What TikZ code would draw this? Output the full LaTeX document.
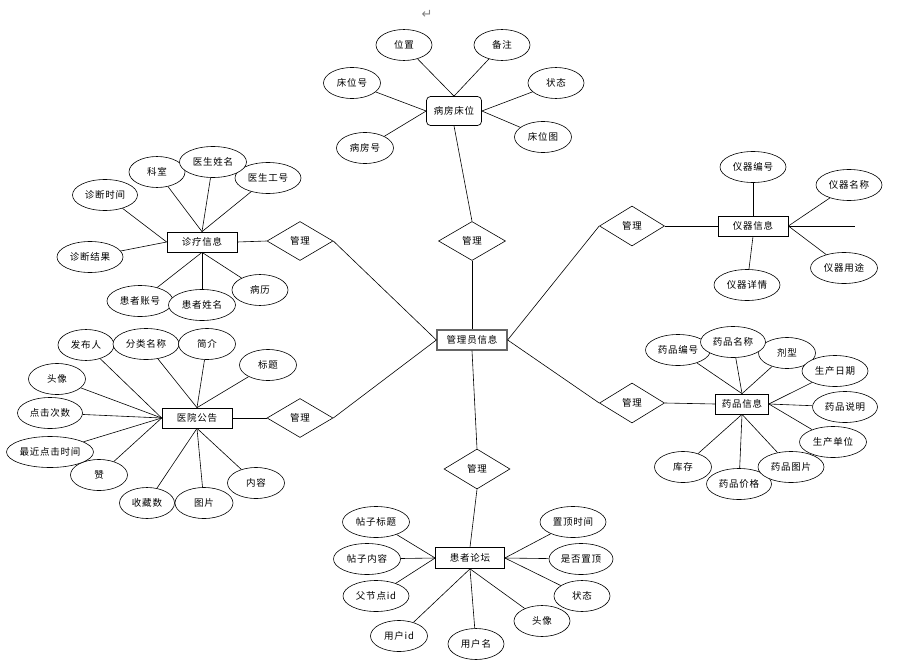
\documentclass[tikz,border=0pt]{standalone}
\usepackage{fontspec}
\setmainfont{Noto Sans CJK SC}[LetterSpace=8]
\newfontfamily\symbfont{DejaVu Sans}
\usetikzlibrary{shapes.geometric}

\tikzset{
	attr/.style={ellipse, draw, fill=white, line width=0.6pt, minimum height=31, inner sep=0pt, font=\fontsize{9.5}{11}\selectfont},
	ent/.style={rectangle, draw, fill=white, line width=0.7pt, minimum width=70, minimum height=20, inner sep=0pt, font=\fontsize{9.5}{11}\selectfont},
	rel/.style={diamond, draw, fill=white, line width=0.6pt, minimum width=66, minimum height=39, inner sep=0pt, font=\fontsize{9.5}{11}\selectfont},
	conn/.style={line width=0.6pt},
}

\begin{document}
\begin{tikzpicture}[x=1pt,y=-1pt]
			\useasboundingbox (0,0) rectangle (923,669);
			\node[text=gray, font=\symbfont\fontsize{13}{13}\selectfont] (mark) at (427,14) {↵};

			% entities
			\node[ent, draw=gray!80!black, line width=1.3pt] (gl) at (472,340) {管理员信息};
			\node[ent, minimum width=55, minimum height=29, rounded corners=4pt] (bf) at (454,111) {病房床位};
			\node[ent] (zl) at (202,242) {诊疗信息};
			\node[ent] (gg) at (197,418) {医院公告};
			\node[ent] (yq) at (753,226) {仪器信息};
			\node[ent, minimum width=53] (yp) at (742,404) {药品信息};
			\node[ent, minimum width=69, minimum height=21] (lt) at (470,558) {患者论坛};

			% relations
			\node[rel, minimum width=67] (rbf) at (472,241) {管理};
			\node[rel] (rzl) at (300,241) {管理};
			\node[rel] (rgg) at (300,418) {管理};
			\node[rel, minimum width=65, minimum height=40] (ryq) at (632,226) {管理};
			\node[rel, minimum width=65, minimum height=40] (ryp) at (632,403) {管理};
			\node[rel, minimum height=40] (rlt) at (477,469) {管理};

			\draw[conn] (bf.south) -- (rbf.north);
			\draw[conn] (rbf.south) -- (gl.north);
			\draw[conn] (zl.east) -- (rzl.west);
			\draw[conn] (rzl.east) -- (gl.west);
			\draw[conn] (gg.east) -- (rgg.west);
			\draw[conn] (rgg.east) -- (gl.west);
			\draw[conn] (gl.east) -- (ryq.west);
			\draw[conn] (ryq.east) -- (yq.west);
			\draw[conn] (gl.east) -- (ryp.west);
			\draw[conn] (ryp.east) -- (yp.west);
			\draw[conn] (gl.south) -- (rlt.north);
			\draw[conn] (rlt.south) -- (lt.north);
			\coordinate (yqend) at (855,226);
			\draw[conn] (yq.east) -- (yqend);

			% attributes
			\foreach \t/\x/\y/\w/\a [count=\j] in {位置/404/45/56/north, 备注/502/45/56/north, 床位号/352/83/57/west, 状态/556/83/56/east, 床位图/543/137/57/east, 病房号/365/148/57/west}
			{
				\node[attr, minimum width=\w] (bf\j) at (\x,\y) {\t};
				\draw[conn] (bf\j) -- (bf.\a);
			}
			\foreach \t/\x/\y/\w/\a [count=\j] in {科室/157/172/56/north, 医生工号/268/178/66/north, 医生姓名/213/162/67/north, 诊断时间/105/195/65/west, 诊断结果/90/257/66/west, 患者账号/140/301/66/south, 患者姓名/202/305/67/south, 病历/260/290/56/south}
			{
				\node[attr, minimum width=\w] (zl\j) at (\x,\y) {\t};
				\draw[conn] (zl\j) -- (zl.\a);
			}
			\foreach \t/\x/\y/\w/\a [count=\j] in {发布人/86/345/56/west, 分类名称/146/344/66/north, 简介/207/344/57/north, 标题/268/365/57/north, 头像/57/379/57/west, 点击次数/50/413/65/west, 赞/99/475/57/west, 最近点击时间/50/452/87/west, 收藏数/147/503/55/south, 图片/204/503/58/south, 内容/256/483/57/south}
			{
				\node[attr, minimum width=\w] (gg\j) at (\x,\y) {\t};
				\draw[conn] (gg\j) -- (gg.\a);
			}
			\foreach \t/\x/\y/\w/\a [count=\j] in {仪器编号/753/167/66/north, 仪器名称/849/185/66/east, 仪器用途/844/268/67/east, 仪器详情/747/285/66/south}
			{
				\node[attr, minimum width=\w] (yq\j) at (\x,\y) {\t};
				\draw[conn] (yq\j) -- (yq.\a);
			}
			\foreach \t/\x/\y/\w/\a [count=\j] in {药品编号/678/350/65/north, 剂型/787/353/57/north, 药品名称/733/342/65/north, 生产日期/835/371/66/east, 药品说明/845/407/65/east, 生产单位/833/442/67/east, 库存/683/467/57/south, 药品价格/739/484/65/south, 药品图片/791/467/66/south}
			{
				\node[attr, minimum width=\w] (yp\j) at (\x,\y) {\t};
				\draw[conn] (yp\j) -- (yp.\a);
			}
			\foreach \t/\x/\y/\w/\a [count=\j] in {帖子标题/376/522/67/west, 帖子内容/367/559/67/west, 父节点id/376/596/66/west, 用户id/399/636/57/south, 用户名/476/644/56/south, 头像/542/621/56/south, 置顶时间/573/522/66/east, 是否置顶/581/559/64/east, 状态/582/596/56/east}
			{
				\node[attr, minimum width=\w] (lt\j) at (\x,\y) {\t};
				\draw[conn] (lt\j) -- (lt.\a);
			}
\end{tikzpicture}
\end{document}
